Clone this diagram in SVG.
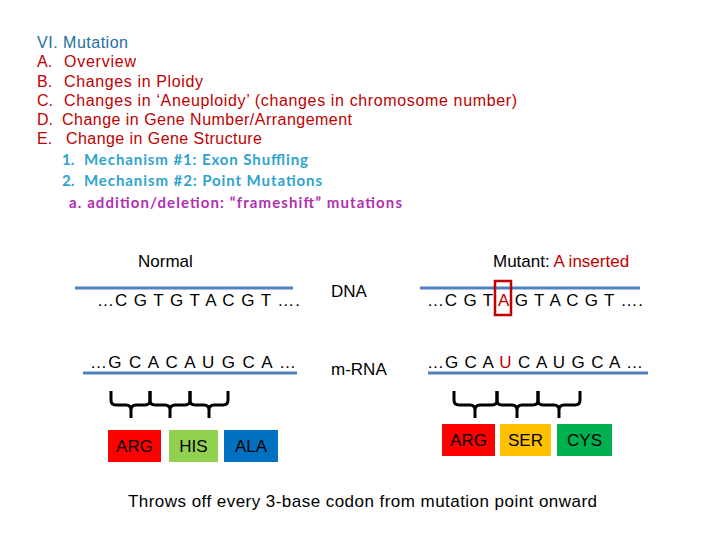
<svg xmlns="http://www.w3.org/2000/svg" width="720" height="540" viewBox="0 0 720 540">
<style>
.h{font-family:"Liberation Sans",Arial,sans-serif;font-size:16px}
.r{fill:#C00000}
.c{font-family:Lato,"Open Sans",sans-serif;font-weight:bold;font-size:15px}
.s{font-family:"Liberation Sans",Arial,sans-serif;font-size:17px;fill:#000}
.ln{stroke:#4F81BD;stroke-width:3}
.br{fill:none;stroke:#000;stroke-width:3}
.bx{font-family:"Liberation Sans",Arial,sans-serif;font-size:17px;fill:#000;text-anchor:middle}
</style>
<rect width="720" height="540" fill="#fff"/>
<g id="outline">
<text class="h" x="37" y="48" fill="#1F6E9E" textLength="91">VI. Mutation</text>
<text class="h r" x="37" y="67">A.</text><text class="h r" x="64" y="67" textLength="72">Overview</text>
<text class="h r" x="37" y="87">B.</text><text class="h r" x="64" y="87" textLength="139">Changes in Ploidy</text>
<text class="h r" x="37" y="106">C.</text><text class="h r" x="64" y="106" textLength="453">Changes in ‘Aneuploidy’ (changes in chromosome number)</text>
<text class="h r" x="37" y="125">D.</text><text class="h r" x="62" y="125" textLength="290">Change in Gene Number/Arrangement</text>
<text class="h r" x="37" y="144">E.</text><text class="h r" x="66" y="144" textLength="196">Change in Gene Structure</text>
<text class="c" x="62" y="165" fill="#2EA3D0">1.</text><text class="c" x="84" y="165" fill="#2EA3D0" textLength="224">Mechanism #1: Exon Shuffling</text>
<text class="c" x="62" y="186" fill="#2EA3D0">2.</text><text class="c" x="84" y="186" fill="#2EA3D0" textLength="238">Mechanism #2: Point Mutations</text>
<text class="c" x="69" y="208" fill="#B030B0" textLength="333">a. addition/deletion: “frameshift” mutations</text>
</g>
<g id="labels">
<text class="s" x="138" y="267">Normal</text>
<text class="s" x="493" y="267">Mutant: <tspan fill="#C00000">A inserted</tspan></text>
<text class="s" x="331" y="297">DNA</text>
<text class="s" x="331" y="375">m-RNA</text>
<text class="s" x="128" y="507" textLength="469">Throws off every 3-base codon from mutation point onward</text>
</g>
<g id="connectors">
<line class="ln" x1="75" y1="288" x2="293" y2="288"/>
<line class="ln" x1="420" y1="288" x2="640" y2="288"/>
<line class="ln" x1="83" y1="373" x2="297" y2="373"/>
<line class="ln" x1="428" y1="373" x2="648" y2="373"/>
<path class="br" d="M111 391V400Q111 405 116 405H126Q131 405 131 410V418M131 410Q131 405 136 405H145Q150 405 150 400V391"/>
<path class="br" d="M150 391V400Q150 405 155 405H165Q170 405 170 410V418M170 410Q170 405 175 405H185Q190 405 190 400V391"/>
<path class="br" d="M190 391V400Q190 405 195 405H204Q209 405 209 410V418M209 410Q209 405 214 405H223Q228 405 228 400V391"/>
<path class="br" d="M454 391V400Q454 405 459 405H470Q475 405 475 410V418M475 410Q475 405 480 405H492Q497 405 497 400V391"/>
<path class="br" d="M497 391V400Q497 405 502 405H512Q517 405 517 410V418M517 410Q517 405 522 405H533Q538 405 538 400V391"/>
<path class="br" d="M538 391V400Q538 405 543 405H554Q559 405 559 410V418M559 410Q559 405 564 405H575Q580 405 580 400V391"/>
</g>
<g id="dna-normal"><text class="s" x="97" y="306" textLength="203">…C G T G T A C G T ….</text></g>
<g id="dna-mutant"><text class="s" x="427" y="306" textLength="216">…C G T <tspan fill="#C00000">A</tspan> G T A C G T ….</text>
<rect x="495" y="281" width="16" height="34" fill="none" stroke="#C00000" stroke-width="2.5"/></g>
<g id="rna-normal"><text class="s" x="90" y="368" textLength="206">…G C A C A U G C A …</text></g>
<g id="rna-mutant"><text class="s" x="427" y="368" textLength="216">…G C A <tspan fill="#C00000">U</tspan> C A U G C A …</text></g>
<g id="arg1"><rect x="108" y="430" width="53" height="32" fill="#FF0000"/><text class="bx" x="134.5" y="452">ARG</text></g>
<g id="his"><rect x="169" y="430" width="49" height="32" fill="#92D050"/><text class="bx" x="193.5" y="452">HIS</text></g>
<g id="ala"><rect x="224" y="430" width="54" height="32" fill="#0070C0"/><text class="bx" x="251" y="452">ALA</text></g>
<g id="arg2"><rect x="442" y="424" width="53" height="32" fill="#FF0000"/><text class="bx" x="468.5" y="446">ARG</text></g>
<g id="ser"><rect x="500" y="424" width="51" height="32" fill="#FFC000"/><text class="bx" x="525.5" y="446">SER</text></g>
<g id="cys"><rect x="557" y="424" width="55" height="32" fill="#00B050"/><text class="bx" x="584.5" y="446">CYS</text></g>
</svg>
